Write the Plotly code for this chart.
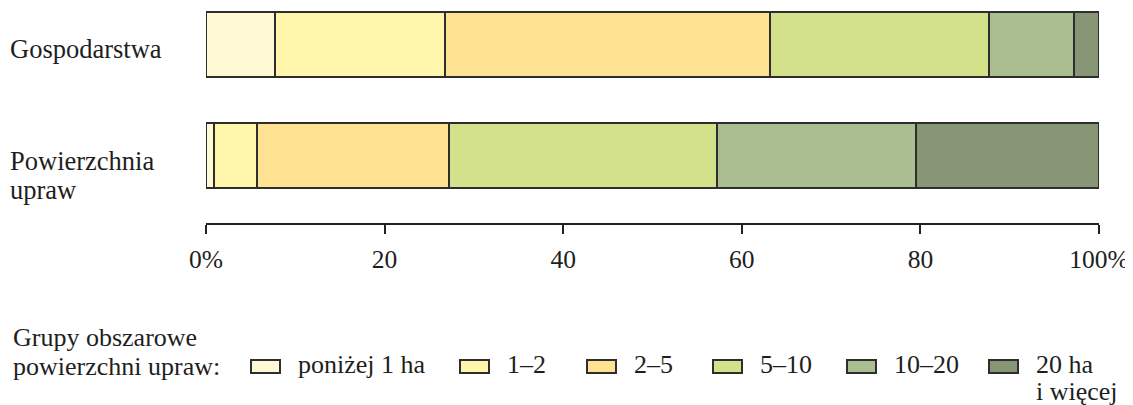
import plotly.graph_objects as go

# ---------------- data ----------------
categories = ["Gospodarstwa", "Powierzchnia upraw"]
category_lines = [["Gospodarstwa"], ["Powierzchnia", "upraw"]]
groups = ["poniżej 1 ha", "1–2", "2–5", "5–10", "10–20", "20 ha i więcej"]
group_lines = [["poniżej 1 ha"], ["1–2"], ["2–5"], ["5–10"], ["10–20"], ["20 ha", "i więcej"]]
gospodarstwa = [7.7, 19.1, 36.4, 24.5, 9.5, 2.8]
powierzchnia = [0.9, 4.8, 21.5, 30.0, 22.3, 20.5]
tick_values = [0, 20, 40, 60, 80, 100]
tick_labels = ["0%", "20", "40", "60", "80", "100%"]
legend_title_lines = ["Grupy obszarowe", "powierzchni upraw:"]

# ---------------- style ----------------
colors = ["#FFF9D6", "#FFF6AB", "#FFE192", "#D3E28A", "#AABE91", "#879775"]
edge = "#2E2E2E"
TXT = "#1E1E1E"
FONT = "Liberation Serif, serif"
FS_CAT, FS_LEG, FS_TICK = 26.5, 26, 25.5
LINE = 29          # line spacing (px)
OFF = 8            # page body margin of the browser
W, H = 1133 - OFF, 405 - OFF
# target pixel geometry (in window coordinates)
PLOT_L, PLOT_R, PLOT_T, PLOT_B = 206, 1099, OFF, 223
ML = PLOT_L - OFF
MR = W - (PLOT_R - OFF)
MT = 0
MB = H - (PLOT_B - OFF)
PW, PH = W - ML - MR, H - MT - MB
legend_px = [251, 460, 587, 713, 847, 989]   # swatch left edges (window px)


def px(x):
    return (x - OFF - ML) / PW


def py(y):
    return (H - MB - (y - OFF)) / PH


fig = go.Figure()
for i, g in enumerate(groups):
    fig.add_trace(go.Bar(
        y=categories,
        x=[gospodarstwa[i], powierzchnia[i]],
        orientation="h",
        name=g,
        marker=dict(color=colors[i], line=dict(color=edge, width=2)),
        width=0.582,
        showlegend=False,
    ))

annotations = []
shapes = []


def text_ann(x, y, s, size, yref="paper", yshift=0):
    return dict(x=x, xref="paper", y=y, yref=yref, xanchor="left", yanchor="top",
                yshift=yshift, text=s, showarrow=False, align="left", borderpad=0,
                font=dict(family=FONT, size=size, color=TXT))


# category labels (left aligned, one annotation per line)
for c, lines in zip(categories, category_lines):
    for k, ln in enumerate(lines):
        annotations.append(text_ann(px(9), c, ln, FS_CAT, yref="y", yshift=11 - k * LINE))

# legend title
for k, ln in enumerate(legend_title_lines):
    annotations.append(text_ann(px(12), py(322 + k * LINE), ln, FS_LEG))

# legend items
for i, lines in enumerate(group_lines):
    x0 = legend_px[i]
    shapes.append(dict(type="rect", xref="paper", yref="paper",
                       x0=px(x0), x1=px(x0 + 29), y0=py(360), y1=py(373),
                       fillcolor=colors[i], line=dict(color=edge, width=2)))
    for k, ln in enumerate(lines):
        annotations.append(text_ann(px(x0 + 46), py(349 + k * 27), ln, FS_LEG))

fig.update_layout(
    width=W, height=H,
    margin=dict(l=ML, r=MR, t=MT, b=MB, pad=0),
    barmode="stack",
    paper_bgcolor="white", plot_bgcolor="white",
    font=dict(family=FONT, size=FS_TICK, color=TXT),
    xaxis=dict(range=[0, 100], tickvals=tick_values, ticktext=tick_labels,
               showline=True, linecolor="#222", linewidth=2,
               ticks="outside", ticklen=9, tickwidth=2, tickcolor="#222",
               ticklabelstandoff=3,
               showgrid=False, zeroline=False, fixedrange=True,
               tickfont=dict(family=FONT, size=FS_TICK, color=TXT)),
    yaxis=dict(type="category", categoryorder="array", categoryarray=categories,
               range=[1.600, -0.325], showticklabels=False, showgrid=False,
               zeroline=False, showline=False, ticks="", fixedrange=True),
    annotations=annotations,
    shapes=shapes,
)

fig.write_html("out.html", config={"displayModeBar": False})
